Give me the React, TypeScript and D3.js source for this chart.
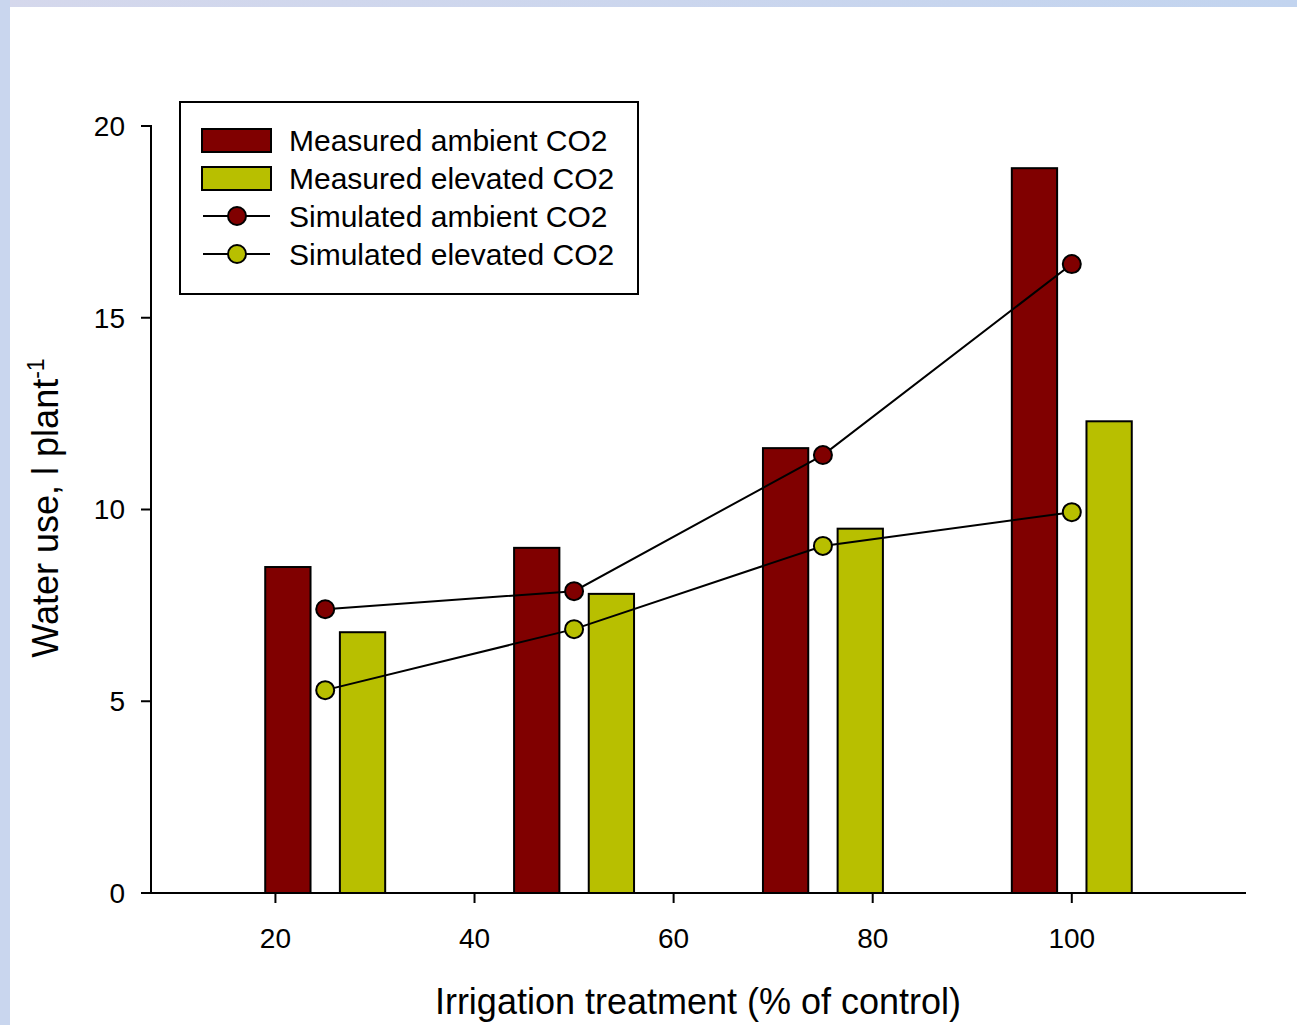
import React from "react";
import * as d3 from "d3";

// Irrigation treatments (% of control)
const treatments = [25, 50, 75, 100];
const xTicks = [20, 40, 60, 80, 100];
const yTicks = [0, 5, 10, 15, 20];

// Measured water use (l per plant)
const measuredAmbient = [8.5, 9.0, 11.6, 18.9];
const measuredElevated = [6.8, 7.8, 9.5, 12.3];

// Simulated water use (l per plant)
const simulatedAmbient = [7.4, 7.87, 11.42, 16.4];
const simulatedElevated = [5.29, 6.88, 9.05, 9.93];

const legendLabels = [
  "Measured ambient CO2",
  "Measured elevated CO2",
  "Simulated ambient CO2",
  "Simulated elevated CO2",
];

const RED = "#800000";
const OLIVE = "#b8bf00";
const FONT = "'Liberation Sans', Arial, sans-serif";

export default function App() {
  const W = 1297;
  const H = 1025;
  const x = d3.scaleLinear().domain([7.5, 117.5]).range([151, 1246]);
  const y = d3.scaleLinear().domain([0, 20]).range([893, 126]);

  const barOffset = 3.75;
  const barWidth = x(4.55) - x(0);

  const line = d3
    .line<[number, number]>()
    .x((d) => x(d[0]))
    .y((d) => y(d[1]));

  const ambPts = treatments.map((t, i) => [t, simulatedAmbient[i]] as [number, number]);
  const elePts = treatments.map((t, i) => [t, simulatedElevated[i]] as [number, number]);

  const legendX = 180;
  const legendY = 102;
  const rowY = [140, 178, 216, 254];

  return (
    <svg
      width={W}
      height={H}
      style={{ position: "absolute", left: 0, top: 0, display: "block" }}
      fontFamily={FONT}
    >
      <defs>
        <linearGradient id="topBand" x1="0" x2="1" y1="0" y2="0">
          <stop offset="0" stopColor="#d5d8ec" />
          <stop offset="1" stopColor="#c2d4ef" />
        </linearGradient>
      </defs>
      <rect x={0} y={0} width={W} height={H} fill="#ffffff" />
      <rect x={0} y={0} width={W} height={7} fill="url(#topBand)" />
      <rect x={0} y={0} width={10} height={H} fill="#c9d6ee" />

      {/* bars */}
      {treatments.map((t, i) => (
        <g key={"bars" + t}>
          <rect
            x={x(t - barOffset) - barWidth / 2}
            y={y(measuredAmbient[i])}
            width={barWidth}
            height={y(0) - y(measuredAmbient[i])}
            fill={RED}
            stroke="#000"
            strokeWidth={2}
          />
          <rect
            x={x(t + barOffset) - barWidth / 2}
            y={y(measuredElevated[i])}
            width={barWidth}
            height={y(0) - y(measuredElevated[i])}
            fill={OLIVE}
            stroke="#000"
            strokeWidth={2}
          />
        </g>
      ))}

      {/* simulated lines */}
      <path d={line(ambPts) || ""} fill="none" stroke="#000" strokeWidth={2} />
      <path d={line(elePts) || ""} fill="none" stroke="#000" strokeWidth={2} />
      {ambPts.map((p, i) => (
        <circle key={"a" + i} cx={x(p[0])} cy={y(p[1])} r={9} fill={RED} stroke="#000" strokeWidth={2} />
      ))}
      {elePts.map((p, i) => (
        <circle key={"e" + i} cx={x(p[0])} cy={y(p[1])} r={9} fill={OLIVE} stroke="#000" strokeWidth={2} />
      ))}

      {/* axes */}
      <line x1={151} x2={151} y1={125} y2={894} stroke="#000" strokeWidth={2} />
      <line x1={141} x2={1246} y1={y(0)} y2={y(0)} stroke="#000" strokeWidth={2} />
      {yTicks.map((v) => (
        <g key={"yt" + v}>
          <line x1={141} x2={151} y1={y(v)} y2={y(v)} stroke="#000" strokeWidth={2} />
          <text x={125} y={y(v)} dy="0.35em" textAnchor="end" fontSize={28}>
            {v}
          </text>
        </g>
      ))}
      {xTicks.map((v) => (
        <g key={"xt" + v}>
          <line x1={x(v)} x2={x(v)} y1={y(0)} y2={y(0) + 10} stroke="#000" strokeWidth={2} />
          <text x={x(v)} y={948} textAnchor="middle" fontSize={28}>
            {v}
          </text>
        </g>
      ))}

      <text x={698} y={1014} textAnchor="middle" fontSize={36}>
        Irrigation treatment (% of control)
      </text>
      <text transform="translate(58,508) rotate(-90)" textAnchor="middle" fontSize={36}>
        Water use, l plant
        <tspan dy={-14} fontSize={23}>-1</tspan>
      </text>

      {/* legend */}
      <rect x={legendX} y={legendY} width={458} height={192} fill="#fff" stroke="#000" strokeWidth={2} />
      <rect x={202} y={rowY[0] - 11} width={69} height={23} fill={RED} stroke="#000" strokeWidth={2} />
      <rect x={202} y={rowY[1] - 11} width={69} height={23} fill={OLIVE} stroke="#000" strokeWidth={2} />
      <line x1={203} x2={270} y1={rowY[2]} y2={rowY[2]} stroke="#000" strokeWidth={2} />
      <circle cx={237} cy={rowY[2]} r={9} fill={RED} stroke="#000" strokeWidth={2} />
      <line x1={203} x2={270} y1={rowY[3]} y2={rowY[3]} stroke="#000" strokeWidth={2} />
      <circle cx={237} cy={rowY[3]} r={9} fill={OLIVE} stroke="#000" strokeWidth={2} />
      {legendLabels.map((l, i) => (
        <text key={l} x={289} y={rowY[i]} dy="0.35em" fontSize={30}>
          {l}
        </text>
      ))}
    </svg>
  );
}
